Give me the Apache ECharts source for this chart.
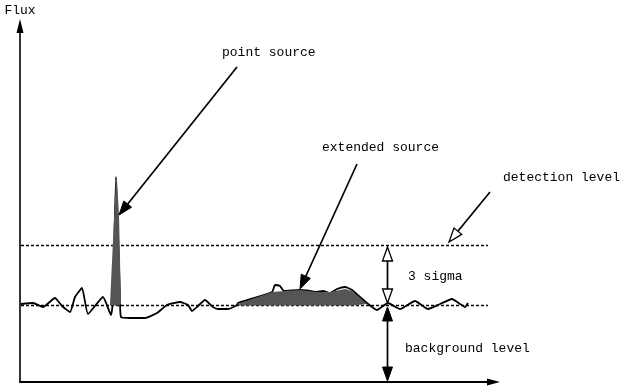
<!DOCTYPE html>
<html>
<head>
<meta charset="utf-8">
<script src="https://cdn.jsdelivr.net/npm/echarts@6/dist/echarts.min.js"></script>
<style>html,body{margin:0;padding:0;background:#fff}#c{width:622px;height:389px}</style>
</head>
<body>
<div id="c"></div>
<script>
// Signal curve (position, flux)
const position = [1,13,23,35,42,50,55,62,68,83,91,93,96,100,101,110,125,137,147,160,168,172,177,185,193,198,208,217,218,252,255,260,264,280,290,297,303,310,317,325,332,340,347,357,368,380,395,408,420,432,440,445,448];
const flux     = [78,79,75,84,76,70,85,94,68,85,67,82,205,82,65,64,64,69,77,80,77,71,75,82,75,73,73,77,79,90,97,96,91,92,91,90,91,89,93,95,92,85,79,72,79,73,81,73,78,83,78,75,79];
// Point source (filled spike)
const pointSrcPos  = [90,96,97,99,101];
const pointSrcFlux = [78,205,202,167,78];
// Extended source (filled bump)
const extSrcPos  = [218,252,264,280,297,310,325,332,347];
const extSrcFlux = [78,90,91,92,90,90,93,91,78];
// Levels
const backgroundLevel = 76.5;
const detectionLevel = 136.5;
const levelRange = [1, 468];
// Annotation arrows: [x1, y1, x2, y2]
const arrowStart = [[217,315],[337,218],[470,190],[367.5,135],[367.5,75]];
const arrowEnd   = [[99,167],[280,93],[429,140],[367.5,79],[367.5,1]];
const arrowHead  = ['filled','filled','hollow','hollow','filled'];
const arrowBoth  = [false,false,false,true,true];
// Annotation labels
const labelText = ['point source','extended source','detection level','3 sigma','background level'];
const labelPos  = [[202,329],[302,234],[483,204],[388,105],[385,33]];

const FONT = '13px "Liberation Mono", "DejaVu Sans Mono", monospace';
const zip = (a, b) => a.map((v, i) => [v, b[i]]);

function head(tip, from, style) {
  const dx = tip[0] - from[0], dy = tip[1] - from[1];
  const len = Math.hypot(dx, dy) || 1;
  const ux = dx / len, uy = dy / len;
  const L = 14, W = 5;
  const bx = tip[0] - ux * L, by = tip[1] - uy * L;
  return {
    base: [bx, by],
    el: {
      type: 'polygon',
      shape: { points: [tip, [bx - uy * W, by + ux * W], [bx + uy * W, by - ux * W]] },
      style: style === 'hollow' ? { fill: '#fff', stroke: '#000', lineWidth: 1.3 } : { fill: '#000', stroke: '#000', lineWidth: 1 }
    }
  };
}

const arrowData = arrowStart.map((s, i) => [s[0], s[1], arrowEnd[i][0], arrowEnd[i][1], i]);
const labelData = labelPos.map((p, i) => [p[0], p[1], i]);

const chart = echarts.init(document.getElementById('c'));
chart.setOption({
  animation: false,
  backgroundColor: '#fff',
  grid: { left: 20, right: 128.5, top: 26, bottom: 7, containLabel: false },
  xAxis: {
    type: 'value', min: 0, max: 473.5,
    axisLine: { show: true, onZero: false, symbol: ['none', 'triangle'], symbolSize: [7, 13], lineStyle: { color: '#000', width: 2 } },
    axisTick: { show: false }, axisLabel: { show: false }, splitLine: { show: false }
  },
  yAxis: {
    type: 'value', min: 0, max: 356,
    name: 'Flux', nameLocation: 'end', nameGap: 9,
    nameTextStyle: { fontFamily: '"Liberation Mono", monospace', fontSize: 13, color: '#000', align: 'center' },
    axisLine: { show: true, onZero: false, symbol: ['none', 'triangle'], symbolSize: [7, 14], lineStyle: { color: '#000', width: 1.6 } },
    axisTick: { show: false }, axisLabel: { show: false }, splitLine: { show: false }
  },
  series: [
    {
      type: 'line', data: [[levelRange[0], detectionLevel], [levelRange[1], detectionLevel]],
      symbol: 'none', lineStyle: { color: '#000', width: 1.3, type: [3, 2] }, z: 2
    },
    {
      type: 'line', data: [[levelRange[0], backgroundLevel], [levelRange[1], backgroundLevel]],
      symbol: 'none', lineStyle: { color: '#000', width: 1.3, type: [3, 2] }, z: 2
    },
    {
      type: 'line', data: zip(position, flux), symbol: 'none', smooth: 0.15,
      lineStyle: { color: '#000', width: 1.8 }, z: 3
    },
    {
      type: 'line', data: zip(pointSrcPos, pointSrcFlux), symbol: 'none',
      lineStyle: { width: 0 }, areaStyle: { color: '#555555', opacity: 1, origin: backgroundLevel }, z: 4
    },
    {
      type: 'line', data: zip(extSrcPos, extSrcFlux), symbol: 'none',
      lineStyle: { width: 0 }, areaStyle: { color: '#555555', opacity: 1, origin: backgroundLevel }, z: 4
    },
    {
      type: 'custom', data: arrowData, clip: false, z: 6,
      encode: { x: [0, 2], y: [1, 3] },
      renderItem: function (params, api) {
        const i = api.value(4);
        const p1 = api.coord([api.value(0), api.value(1)]);
        const p2 = api.coord([api.value(2), api.value(3)]);
        const h2 = head(p2, p1, arrowHead[i]);
        let a = p1;
        const children = [];
        if (arrowBoth[i]) {
          const h1 = head(p1, p2, arrowHead[i]);
          a = h1.base;
          children.push(h1.el);
        }
        children.unshift({ type: 'line', shape: { x1: a[0], y1: a[1], x2: h2.base[0], y2: h2.base[1] }, style: { stroke: '#000', lineWidth: 1.7 } });
        children.push(h2.el);
        return { type: 'group', children: children };
      }
    },
    {
      type: 'custom', data: labelData, clip: false, z: 7,
      encode: { x: 0, y: 1 },
      renderItem: function (params, api) {
        const p = api.coord([api.value(0), api.value(1)]);
        return {
          type: 'text', x: p[0], y: p[1],
          style: { text: labelText[api.value(2)], font: FONT, fill: '#000', textAlign: 'left', verticalAlign: 'middle', textVerticalAlign: 'middle' }
        };
      }
    }
  ]
});
</script>
</body>
</html>
